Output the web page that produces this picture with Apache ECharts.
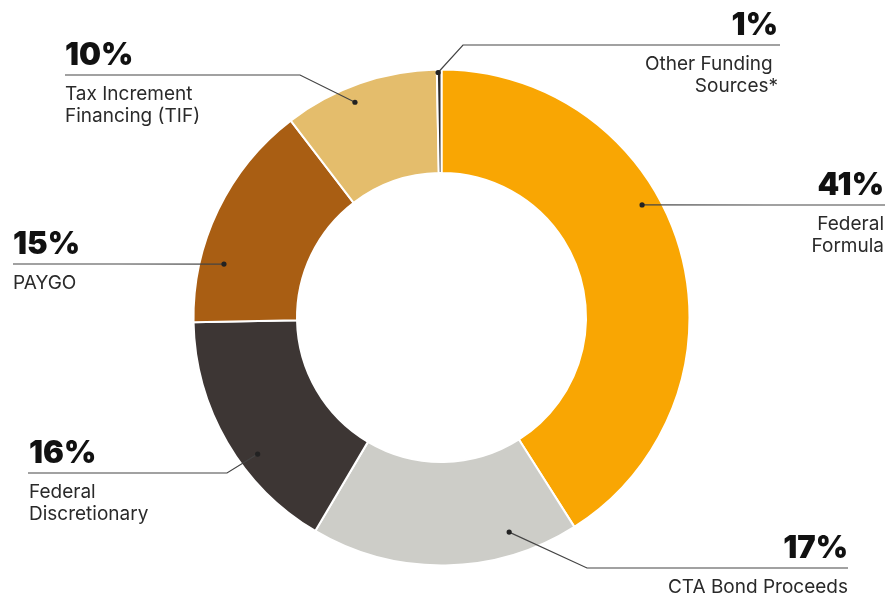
<!DOCTYPE html>
<html lang="en">
<head>
  <meta charset="UTF-8">
  <title>Funding Sources</title>
  <script src="https://cdn.jsdelivr.net/npm/echarts@6/dist/echarts.min.js"></script>
  <style>
    html, body { margin: 0; padding: 0; background: #fff; }
    #chart { width: 888px; height: 598px; }
  </style>
</head>
<body>
  <div id="chart"></div>
  <script>
    // data
    const categories = ['Federal Formula', 'CTA Bond Proceeds', 'Federal Discretionary', 'PAYGO', 'Tax Increment Financing (TIF)', 'Other Funding Sources*'];
    const nameLines = [['Federal', 'Formula'], ['CTA Bond Proceeds'], ['Federal', 'Discretionary'], ['PAYGO'], ['Tax Increment', 'Financing (TIF)'], ['Other Funding ', 'Sources*']];
    const shares = [41.0, 17.5, 16.2, 14.9, 10.1, 0.3];
    const pctLabels = ['41%', '17%', '16%', '15%', '10%', '1%'];
    const colors = ['#F9A603', '#CDCDC8', '#3D3634', '#A95E13', '#E4BD6C', '#2E2B29'];

    // label placement: dot (angle clockwise from top, radius), elbow, line y, text edge x
    const labelPos = [
      { ang: 60.7,  r: 230, elbow: null,       lineY: 205, textX: 884, endX: 885, align: 'right' },
      { ang: 162.5, r: 225, elbow: [587, 568], lineY: 568, textX: 848, endX: 848, align: 'right' },
      { ang: 233.4, r: 229, elbow: [227, 473], lineY: 473, textX: 29,  endX: 28,  align: 'left' },
      { ang: 283.8, r: 224, elbow: null,       lineY: 264, textX: 13,  endX: 13,  align: 'left' },
      { ang: 338.1, r: 232, elbow: [300, 75],  lineY: 75,  textX: 65,  endX: 65,  align: 'left' },
      { ang: 359.2, r: 245, elbow: [463, 45],  lineY: 45,  textX: 778, endX: 780, align: 'right' }
    ];

    const cx = 441.5, cy = 317.5;
    function dotXY(p) {
      const a = p.ang * Math.PI / 180;
      return [cx + p.r * Math.sin(a), cy - p.r * Math.cos(a)];
    }

    const chart = echarts.init(document.getElementById('chart'));
    const pieData = categories.map((c, i) => ({ name: c, value: shares[i] }));
    const base = {
      type: 'pie',
      center: [cx, cy],
      radius: [144.5, 248],
      startAngle: 90,
      clockwise: true,
      avoidLabelOverlap: false,
      emphasis: { disabled: true },
      data: pieData
    };

    const option = {
      animation: false,
      color: colors,
      series: [
        // rings
        Object.assign({}, base, {
          z: 2,
          itemStyle: { borderColor: '#fff', borderWidth: 2 },
          label: { show: false },
          labelLine: { show: false }
        }),
        // labels and leader lines drawn on top of the rings
        Object.assign({}, base, {
          z: 5,
          silent: true,
          itemStyle: { color: 'rgba(0,0,0,0)', borderWidth: 0 },
          label: {
            show: true,
            position: 'outside',
            formatter: p => '{p|' + pctLabels[p.dataIndex] + '}\n' +
              nameLines[p.dataIndex].map(s => '{n|' + s + '}').join('\n'),
            rich: {
              p: { fontFamily: 'Inter', fontWeight: 900, fontSize: 31, lineHeight: 55, color: '#111' },
              n: { fontFamily: 'Inter', fontSize: 19, lineHeight: 22, color: '#2a2a2a' }
            }
          },
          labelLine: { show: true, lineStyle: { color: '#444', width: 1.2 } },
          labelLayout: params => {
            const p = labelPos[params.dataIndex];
            const d = dotXY(p);
            const pts = [d];
            if (p.elbow) pts.push(p.elbow);
            else pts.push([(d[0] + p.endX) / 2, p.lineY]);
            pts.push([p.endX, p.lineY]);
            return {
              x: p.textX,
              y: p.lineY - 47,
              align: p.align,
              verticalAlign: 'top',
              labelLinePoints: pts
            };
          }
        })
      ],
      graphic: labelPos.map(p => {
        const d = dotXY(p);
        return { type: 'circle', shape: { cx: d[0], cy: d[1], r: 2.6 }, style: { fill: '#222' }, z: 100 };
      })
    };

    chart.setOption(option);
  </script>
</body>
</html>
